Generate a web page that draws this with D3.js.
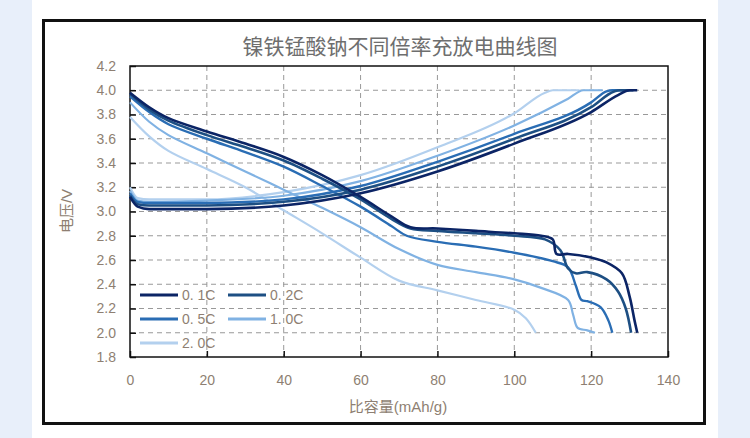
<!DOCTYPE html>
<html><head><meta charset="utf-8">
<script src="https://cdn.jsdelivr.net/npm/d3@7"></script>
<style>body{margin:0;background:#e8effa;}svg{display:block}</style>
</head><body>
<svg id="chart" width="750" height="438"></svg>
<script>
// rates and colours
const rates = ["0.1C", "0.2C", "0.5C", "1.0C", "2.0C"];
const legendLabels = ["0. 1C", "0. 2C", "0. 5C", "1. 0C", "2. 0C"];
const colors = ["#0b2465", "#1d4f83", "#2a6db4", "#80b2e3", "#b3d0ee"];
const xTicks = [0, 20, 40, 60, 80, 100, 120, 140];
const yTicks = [1.8, 2.0, 2.2, 2.4, 2.6, 2.8, 3.0, 3.2, 3.4, 3.6, 3.8, 4.0, 4.2];

// discharge curves [capacity, voltage]
const discharge01 = [[0,3.98],[5,3.86],[10,3.77],[20,3.66],[30,3.56],[40,3.45],[50,3.3],[60,3.12],[68,2.96],[73,2.87],[80,2.86],[90,2.84],[100,2.82],[107,2.8],[110,2.77],[111,2.65],[114,2.65],[120,2.62],[124,2.58],[128,2.49],[130,2.3],[131.3,2.1],[132,2.0]];
const discharge02 = [[0,3.97],[5,3.84],[10,3.75],[20,3.63],[30,3.53],[40,3.42],[50,3.27],[60,3.1],[68,2.94],[73,2.86],[80,2.84],[90,2.82],[100,2.8],[108,2.77],[112,2.68],[114,2.53],[116,2.49],[119,2.5],[124,2.44],[127,2.34],[129,2.2],[130.4,2.0]];
const discharge05 = [[0,3.95],[5,3.82],[10,3.72],[20,3.6],[30,3.49],[40,3.37],[50,3.21],[60,3.04],[68,2.88],[72,2.8],[80,2.75],[90,2.71],[100,2.66],[110,2.59],[114,2.54],[116,2.39],[117.5,2.27],[119,2.26],[122.5,2.21],[124.5,2.1],[125.5,2.0]];
const discharge10 = [[0,3.9],[5,3.74],[10,3.63],[20,3.48],[30,3.33],[40,3.18],[50,3.03],[60,2.87],[70,2.69],[80,2.56],[90,2.5],[100,2.44],[107,2.37],[114,2.27],[115.3,2.15],[116.5,2.04],[119,2.02],[121,2.0]];
const discharge20 = [[0,3.78],[5,3.62],[10,3.5],[20,3.35],[30,3.2],[40,3.01],[50,2.82],[60,2.62],[70,2.43],[80,2.35],[90,2.27],[100,2.19],[103,2.12],[105.6,2.0]];

// charge curves
const charge01 = [[0,3.12],[2,3.04],[5,3.02],[20,3.02],[40,3.05],[60,3.15],[80,3.33],[100,3.56],[120,3.82],[127,3.96],[130,4.0],[132,4.0]];
const charge02 = [[0,3.13],[2,3.06],[5,3.05],[20,3.05],[40,3.08],[60,3.18],[80,3.37],[100,3.6],[120,3.86],[126,3.99],[127.5,4.0],[131,4.0]];
const charge05 = [[0,3.15],[2,3.08],[5,3.07],[20,3.07],[40,3.1],[60,3.21],[80,3.41],[100,3.64],[120,3.9],[124,3.99],[125.5,4.0],[130,4.0]];
const charge10 = [[0,3.17],[2,3.09],[5,3.08],[20,3.09],[40,3.13],[60,3.25],[80,3.46],[100,3.71],[114,3.93],[118,4.0],[123,4.0]];
const charge20 = [[0,3.2],[2,3.11],[5,3.1],[20,3.1],[40,3.16],[60,3.3],[80,3.53],[100,3.81],[108,3.98],[110,4.0],[117,4.0]];

const discharge = [discharge01, discharge02, discharge05, discharge10, discharge20];
const charge = [charge01, charge02, charge05, charge10, charge20];

const svg = d3.select("#chart");
const txt = "#8e7f72";
const font = "'Liberation Sans', Arial, 'Noto Sans CJK SC', sans-serif";

// white panel and frame
svg.append("rect").attr("x", 32).attr("y", 0).attr("width", 686).attr("height", 438).attr("fill", "#fff");
svg.append("rect").attr("x", 43.5).attr("y", 20.5).attr("width", 661).attr("height", 403)
  .attr("fill", "none").attr("stroke", "#111").attr("stroke-width", 3);

const L = 130, R = 668, T = 66, B = 357;
const x = d3.scaleLinear().domain([0, 140]).range([L, R]);
const y = d3.scaleLinear().domain([1.8, 4.2]).range([B, T]);

// grid
svg.append("g").selectAll("line").data(yTicks.slice(1, -1)).join("line")
  .attr("x1", L).attr("x2", R).attr("y1", d => y(d)).attr("y2", d => y(d))
  .attr("stroke", "#999").attr("stroke-dasharray", "5,4");
svg.append("g").selectAll("line").data(xTicks.slice(1, -1)).join("line")
  .attr("y1", T).attr("y2", B).attr("x1", d => x(d)).attr("x2", d => x(d))
  .attr("stroke", "#999").attr("stroke-dasharray", "5,4");

// axes
const xAxis = svg.append("g").attr("transform", `translate(0,${B})`)
  .call(d3.axisBottom(x).tickValues(xTicks).tickSize(-6).tickPadding(18));
const yAxis = svg.append("g").attr("transform", `translate(${L},0)`)
  .call(d3.axisLeft(y).tickValues(yTicks).tickSize(-6).tickPadding(14).tickFormat(d3.format(".1f")));
[xAxis, yAxis].forEach(a => {
  a.select(".domain").remove();
  a.selectAll("line").attr("stroke", "#111").attr("stroke-width", 1.5);
  a.selectAll("text").attr("fill", txt).attr("font-size", 14).attr("font-family", font);
});
svg.append("rect").attr("x", L).attr("y", T).attr("width", R - L).attr("height", B - T)
  .attr("fill", "none").attr("stroke", "#111").attr("stroke-width", 1.5);

// curves
const line = d3.line().x(d => x(d[0])).y(d => y(d[1])).curve(d3.curveMonotoneX);
const lineD = d3.line().x(d => x(d[0])).y(d => y(d[1])).curve(d3.curveCatmullRom);
const widths = [2.6, 2.6, 2.4, 2.2, 2.2];
for (let i = rates.length - 1; i >= 0; i--) {
  svg.append("path").attr("d", line(charge[i])).attr("fill", "none")
    .attr("stroke", colors[i]).attr("stroke-width", widths[i]);
  svg.append("path").attr("d", lineD(discharge[i])).attr("fill", "none")
    .attr("stroke", colors[i]).attr("stroke-width", widths[i]);
}

// legend
const lg = svg.append("g");
rates.forEach((r, i) => {
  const lx = 140 + (i % 2) * 88, ly = 295 + Math.floor(i / 2) * 24;
  lg.append("line").attr("x1", lx).attr("x2", lx + 38).attr("y1", ly).attr("y2", ly)
    .attr("stroke", colors[i]).attr("stroke-width", 3);
  lg.append("text").attr("x", lx + 42).attr("y", ly + 5).text(legendLabels[i])
    .attr("fill", txt).attr("font-size", 14).attr("font-family", font);
});

// titles
svg.append("text").attr("x", 400).attr("y", 54).attr("text-anchor", "middle")
  .attr("font-size", 21).attr("fill", "#6e6e6e").attr("font-family", font).text("镍铁锰酸钠不同倍率充放电曲线图");
svg.append("text").attr("x", 398).attr("y", 412).attr("text-anchor", "middle")
  .attr("font-size", 15).attr("fill", txt).attr("font-family", font).text("比容量(mAh/g)");
svg.append("text").attr("transform", "translate(72,211) rotate(-90)").attr("text-anchor", "middle")
  .attr("font-size", 15).attr("fill", txt).attr("font-family", font).text("电压/V");
</script>
</body></html>
